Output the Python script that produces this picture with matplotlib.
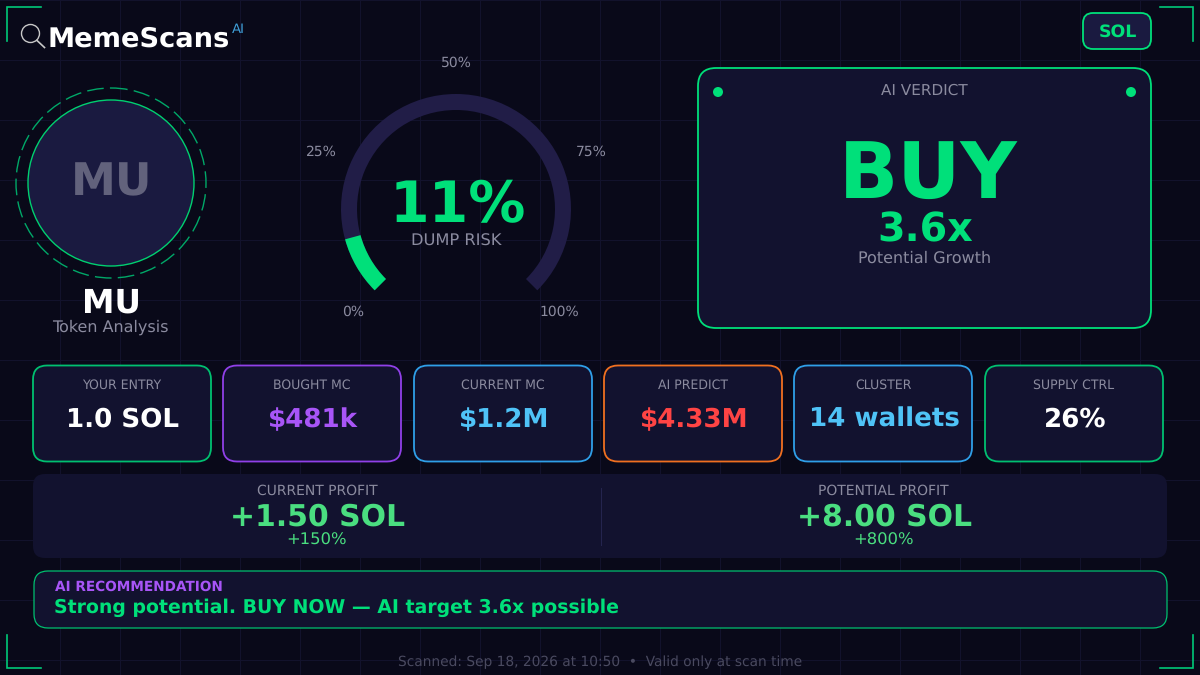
import matplotlib
matplotlib.use("Agg")
import matplotlib.pyplot as plt
from matplotlib.patches import FancyBboxPatch, Circle, Wedge

plt.rcParams["text.hinting"] = "none"

BG = "#090919"
PANEL = "#12122f"
GRID = "#12122c"
GREEN = "#00e07a"
GREY = "#8b8b9f"
TRACK = "#211d47"
PURPLE = "#a855f7"
BLUE = "#4fc3f7"
RED = "#ff4444"
LIGHT_GREEN = "#4ade80"

token = "MU"
risk = 11
risk_ticks = ["0%", "25%", "50%", "75%", "100%"]
card_labels = ["YOUR ENTRY", "BOUGHT MC", "CURRENT MC", "AI PREDICT", "CLUSTER", "SUPPLY CTRL"]
card_values = ["1.0 SOL", "$481k", "$1.2M", "$4.33M", "14 wallets", "26%"]
card_colors = ["#ffffff", PURPLE, BLUE, RED, BLUE, "#ffffff"]
card_borders = ["#00c070", "#9040e8", "#2f9fe8", "#f07020", "#2f9fe8", "#00c070"]
profit_labels = ["CURRENT PROFIT", "POTENTIAL PROFIT"]
profit_values = ["+1.50 SOL", "+8.00 SOL"]
profit_pcts = ["+150%", "+800%"]

fig = plt.figure(figsize=(12, 6.75), dpi=100, facecolor=BG)
ax = fig.add_axes([0, 0, 1, 1])
ax.set_xlim(0, 1200)
ax.set_ylim(675, 0)
ax.axis("off")


def txt(x, y, s, size, color, bold=False, ha="center", **kw):
    # unhinted glyphs sit a little high with va=center, push down by size
    ax.text(x, y + 0.1 * size, s, fontsize=size, color=color, ha=ha, va="center",
            fontweight="bold" if bold else "normal", family="DejaVu Sans", **kw)


def box(x0, y0, x1, y1, r, face, edge="none", lw=1.5, z=2):
    ax.add_patch(FancyBboxPatch((x0, y0), x1 - x0, y1 - y0,
                                boxstyle=f"round,pad=0,rounding_size={r}",
                                fc=face, ec=edge, lw=lw, zorder=z))


# background grid
for gx in range(60, 1200, 60):
    ax.plot([gx, gx], [0, 675], color=GRID, lw=0.72, zorder=0)
for gy in range(0, 675, 60):
    ax.plot([0, 1200], [gy, gy], color=GRID, lw=0.72, zorder=0)

# corner brackets
for pts in ([(7, 41), (7, 7), (41, 7)], [(1160, 7), (1193, 7), (1193, 41)],
            [(7, 635), (7, 668), (41, 668)], [(1160, 668), (1193, 668), (1193, 635)]):
    xs, ys = zip(*pts)
    ax.plot(xs, ys, color="#00c878", lw=1.2, zorder=1, solid_joinstyle="miter")

# logo
ax.add_patch(Circle((30.5, 33.5), 9, fc="none", ec="#c8c8c8", lw=1))
ax.plot([37, 44.5], [40.5, 47.5], color="#c8c8c8", lw=1.2)
txt(47, 37, "MemeScans", 19.6, "#ffffff", bold=True, ha="left")
txt(232, 28, "AI", 9.5, "#3f9fd8", ha="left")

# chain badge
box(1083, 13, 1151, 49, 10, "#1a1a40", GREEN, lw=1.3)
txt(1118, 31, "SOL", 12.5, GREEN, bold=True)

# token avatar
ax.add_patch(Circle((111, 183), 95, fc="none", ec="#00a868", lw=1, ls=(0, (12, 4.5))))
ax.add_patch(Circle((111, 183), 83, fc="#1a1a40", ec="#00d070", lw=1, zorder=2))
txt(112, 180, token, 32.5, "#62627c", bold=True, zorder=3)
txt(111, 301, token, 23.5, "#ffffff", bold=True)
txt(110, 326, "Token Analysis", 11.5, GREY)

# gauge
cx, cy = 456, 209
ax.add_patch(Wedge((cx, cy), 115, 135, 405, width=16, fc=TRACK, ec="none", zorder=2))
ax.add_patch(Wedge((cx, cy), 115, 135, 135 + 270 * risk / 100, width=16, fc=GREEN, ec="none", zorder=3))
for pos, s in zip([(353, 311), (321, 151), (456, 62), (591, 151), (559, 311)], risk_ticks):
    txt(pos[0], pos[1], s, 10, GREY)
txt(458, 202, f"{risk}%", 41, GREEN, bold=True, zorder=4)
txt(456, 240, "DUMP RISK", 11.7, GREY, zorder=4)

# verdict panel
box(698, 68, 1151, 328, 18, PANEL, GREEN, lw=1.3)
ax.add_patch(Circle((718, 92), 5, fc=GREEN, ec="none", zorder=3))
ax.add_patch(Circle((1131, 92), 5, fc=GREEN, ec="none", zorder=3))
txt(924, 90, "AI VERDICT", 11, GREY, zorder=3)
txt(928, 171, "BUY", 56, GREEN, bold=True, zorder=3)
txt(925, 228, "3.6x", 28.5, GREEN, bold=True, zorder=3)
txt(925, 257, "Potential Growth", 11.5, GREY, zorder=3)

# metric cards
card_x = [33, 223, 414, 604, 794, 985]
for x0, lab, val, col, edge in zip(card_x, card_labels, card_values, card_colors, card_borders):
    box(x0, 365.5, x0 + 178, 461.5, 14, PANEL, edge, lw=1.3)
    mid = x0 + 89
    txt(mid, 384, lab, 9, GREY, zorder=3)
    txt(mid + 1, 418, val, 18.8, col, bold=True, zorder=3)

# profit strip
box(33, 474, 1167, 558, 12, PANEL)
ax.plot([600.5, 600.5], [488, 545], color="#24244e", lw=0.72, zorder=3)
for mid, lab, val, pct in zip([317, 883.5], profit_labels, profit_values, profit_pcts):
    txt(mid, 490, lab, 10, GREY, zorder=3)
    txt(mid + 1, 515, val, 21.5, LIGHT_GREEN, bold=True, zorder=3)
    txt(mid, 539, pct, 11.8, LIGHT_GREEN, zorder=3)

# recommendation
box(34, 571, 1167, 628, 14, PANEL, "#00c070", lw=0.9)
txt(55, 586, "AI RECOMMENDATION", 9.8, PURPLE, bold=True, ha="left", zorder=3)
txt(54, 606, "Strong potential. BUY NOW \u2014 AI target 3.6x possible", 13.6, GREEN, bold=True, ha="left", zorder=3)

# footer
txt(600, 661, "Scanned: Sep 18, 2026 at 10:50  \u2022  Valid only at scan time", 9.9, "#4a4a60")

fig.savefig("out.png", dpi=100, facecolor=BG)
